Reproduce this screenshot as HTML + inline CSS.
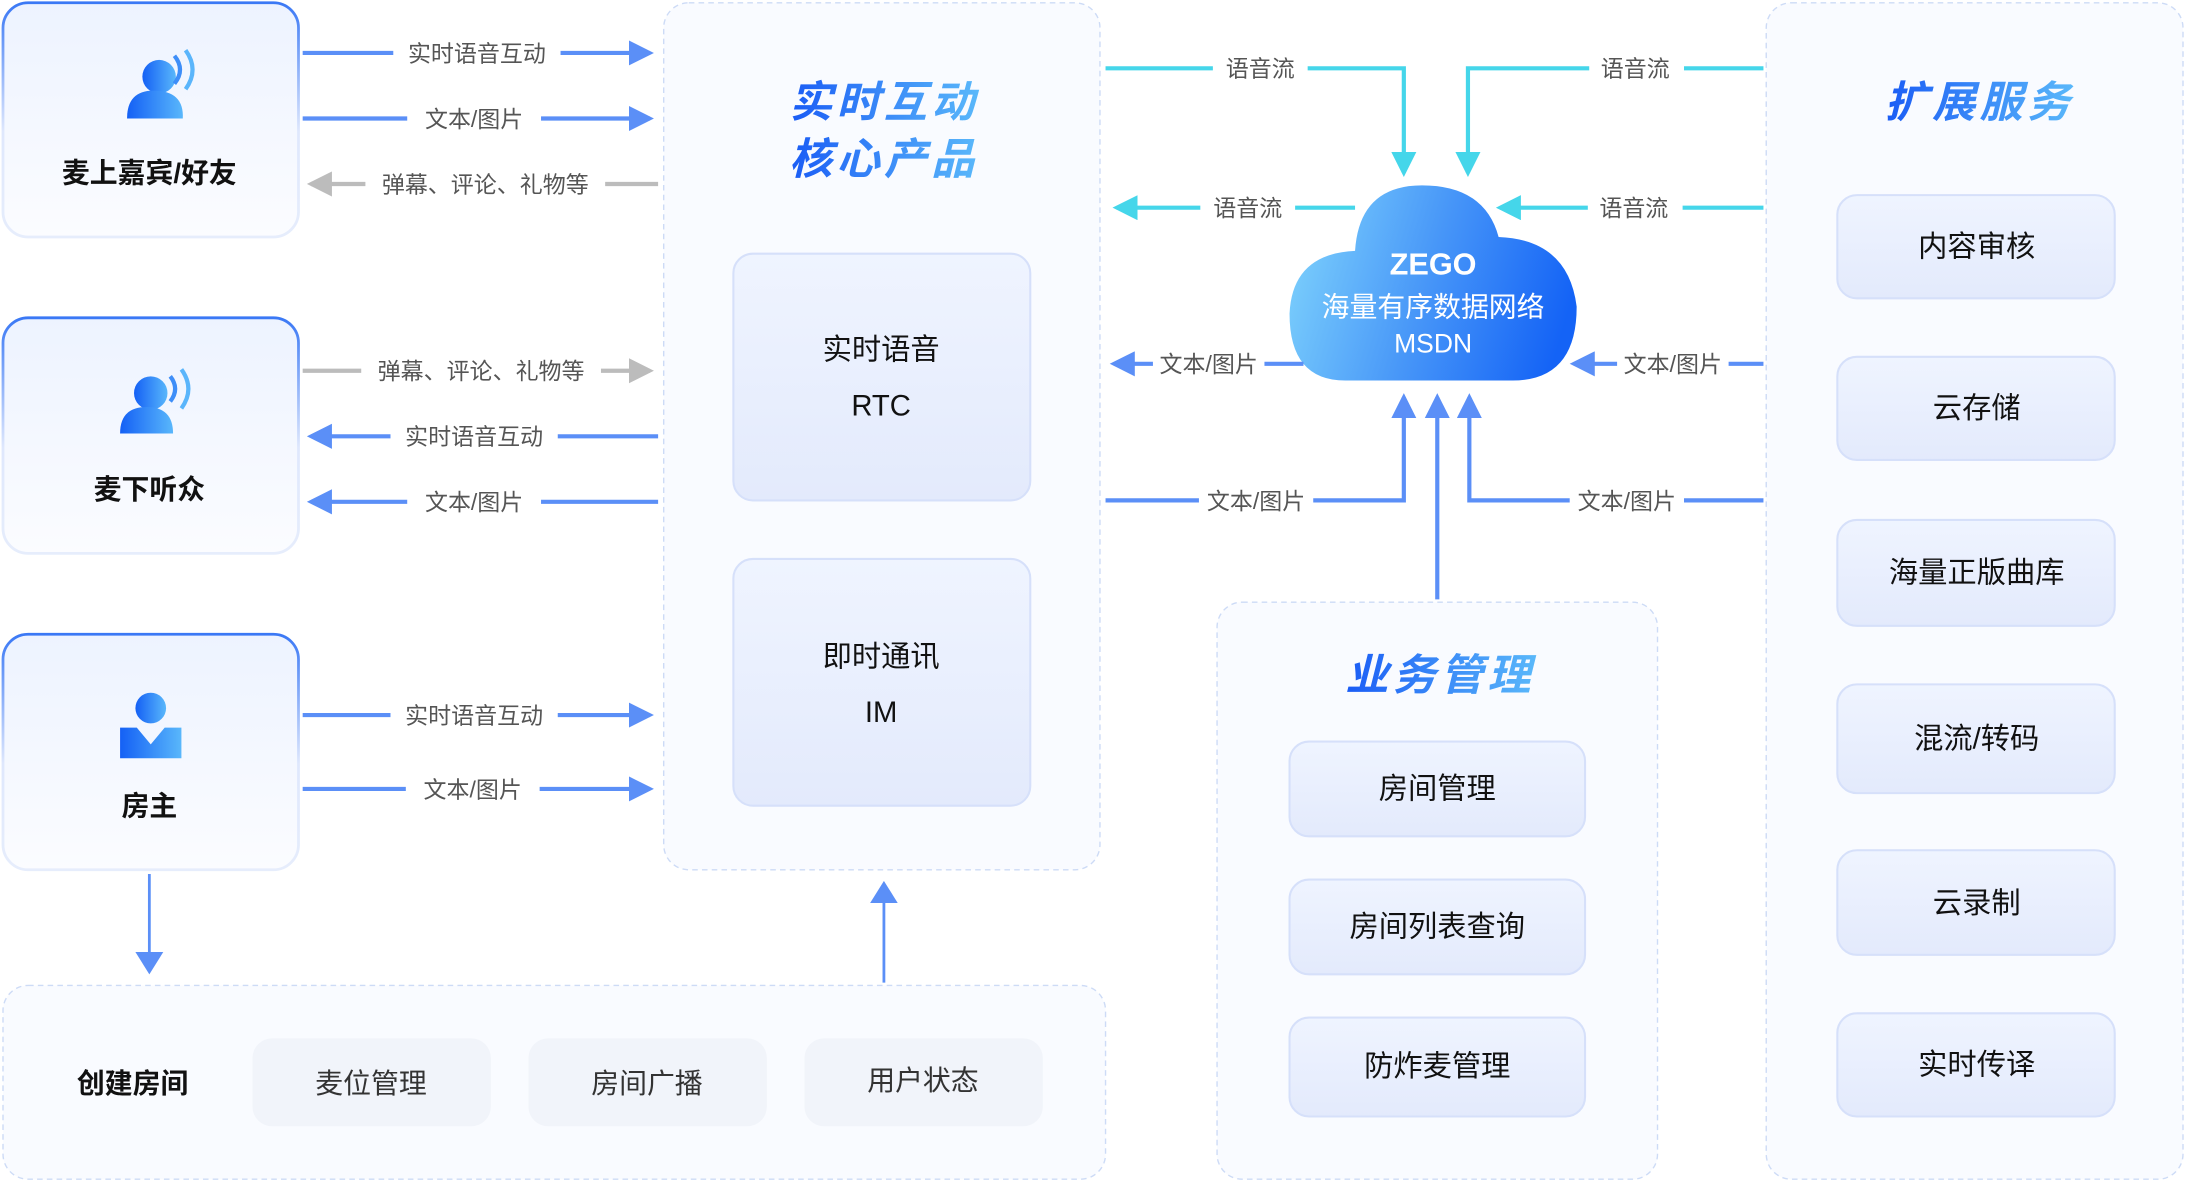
<!DOCTYPE html>
<html><head><meta charset="utf-8"><style>
html,body{margin:0;padding:0;background:#fff;}
svg{display:block;}
text{font-family:"Liberation Sans","Noto Sans CJK SC",sans-serif;}
</style></head><body>
<svg width="2186" height="1182" viewBox="0 0 1568 848" xmlns="http://www.w3.org/2000/svg">
<defs>
<linearGradient id="ub" x1="0" y1="0" x2="0" y2="1"><stop offset="0" stop-color="#3a78f5"/><stop offset="0.55" stop-color="#dfe8fd"/><stop offset="1" stop-color="#e6edfc"/></linearGradient>
<linearGradient id="uf" x1="0" y1="0" x2="0" y2="1"><stop offset="0" stop-color="#edf3ff"/><stop offset="1" stop-color="#fbfcff"/></linearGradient>
<linearGradient id="bf" x1="0" y1="0" x2="0" y2="1"><stop offset="0" stop-color="#eff4ff"/><stop offset="1" stop-color="#e3eafc"/></linearGradient>
<linearGradient id="tt" x1="0" y1="0" x2="1" y2="0"><stop offset="0" stop-color="#1a5cf5"/><stop offset="1" stop-color="#5ab8fa"/></linearGradient>
<linearGradient id="ic" x1="0" y1="0" x2="1" y2="0"><stop offset="0" stop-color="#1460f5"/><stop offset="1" stop-color="#59b7fb"/></linearGradient>
<linearGradient id="cl" x1="0" y1="0.3" x2="1" y2="0.5"><stop offset="0" stop-color="#7cd0fc"/><stop offset="0.5" stop-color="#4796f8"/><stop offset="1" stop-color="#1463f6"/></linearGradient>
<marker id="ab" markerWidth="6" markerHeight="6" refX="5" refY="3" orient="auto" markerUnits="strokeWidth"><path d="M0,0 L6,3 L0,6 z" fill="#5b8ff7"/></marker>
<marker id="ag" markerWidth="6" markerHeight="6" refX="5" refY="3" orient="auto" markerUnits="strokeWidth"><path d="M0,0 L6,3 L0,6 z" fill="#bcbcbc"/></marker>
<marker id="ac" markerWidth="6" markerHeight="6" refX="5" refY="3" orient="auto" markerUnits="strokeWidth"><path d="M0,0 L6,3 L0,6 z" fill="#45d6ea"/></marker>
<marker id="abs" markerWidth="8" markerHeight="10" refX="7" refY="5" orient="auto" markerUnits="strokeWidth"><path d="M0,0 L8,5 L0,10 z" fill="#5b8ff7"/></marker>
</defs>

<rect x="476" y="2" width="313" height="622" rx="18" fill="#f9fbff" stroke="#cddbf6" stroke-dasharray="4 3"/>
<rect x="2" y="707" width="791" height="139" rx="18" fill="#f9fbff" stroke="#cddbf6" stroke-dasharray="4 3"/>
<rect x="873" y="432" width="316" height="414" rx="18" fill="#f9fbff" stroke="#cddbf6" stroke-dasharray="4 3"/>
<rect x="1267" y="2" width="299" height="844" rx="18" fill="#f9fbff" stroke="#cddbf6" stroke-dasharray="4 3"/>

<g>
<rect x="2" y="2" width="212" height="168" rx="18" fill="url(#uf)" stroke="url(#ub)" stroke-width="2"/>
<rect x="2" y="228" width="212" height="169" rx="18" fill="url(#uf)" stroke="url(#ub)" stroke-width="2"/>
<rect x="2" y="455" width="212" height="169" rx="18" fill="url(#uf)" stroke="url(#ub)" stroke-width="2"/>
</g>
<g fill="url(#ic)">
<ellipse cx="114" cy="55" rx="12" ry="12"/><path d="M91,85 Q91,65 110,65 Q132,65 131,85 Z"/>
<path d="M125,40 Q133,50 125,60" stroke="#3e8ef8" stroke-width="3" fill="none"/><path d="M133,36 Q143,50 133,64" stroke="#5ab5fb" stroke-width="3" fill="none"/>
<ellipse cx="108" cy="282" rx="12" ry="12"/><path d="M86,311 Q86,292 105,292 Q124,292 124,311 Z"/>
<path d="M122,270 Q129,279 122,288" stroke="#3e8ef8" stroke-width="3" fill="none"/><path d="M130,265 Q140,279 130,293" stroke="#5ab5fb" stroke-width="3" fill="none"/>
<ellipse cx="108" cy="508" rx="11" ry="11"/><path d="M86,544 L86,522 L98,522 L108,534 L118,522 L130,522 L130,544 Z"/>
</g>
<g font-size="20" font-weight="bold" fill="#111" text-anchor="middle">
<text x="107" y="131">麦上嘉宾/好友</text>
<text x="107" y="358">麦下听众</text>
<text x="107" y="585">房主</text>
</g>

<g stroke-width="3" fill="none">
<line x1="217" y1="38" x2="466" y2="38" stroke="#5b8ff7" marker-end="url(#ab)"/>
<line x1="217" y1="85" x2="466" y2="85" stroke="#5b8ff7" marker-end="url(#ab)"/>
<line x1="472" y1="132" x2="223" y2="132" stroke="#bcbcbc" marker-end="url(#ag)"/>
<line x1="217" y1="266" x2="466" y2="266" stroke="#bcbcbc" marker-end="url(#ag)"/>
<line x1="472" y1="313" x2="223" y2="313" stroke="#5b8ff7" marker-end="url(#ab)"/>
<line x1="472" y1="360" x2="223" y2="360" stroke="#5b8ff7" marker-end="url(#ab)"/>
<line x1="217" y1="513" x2="466" y2="513" stroke="#5b8ff7" marker-end="url(#ab)"/>
<line x1="217" y1="566" x2="466" y2="566" stroke="#5b8ff7" marker-end="url(#ab)"/>
</g>
<g fill="#fff">
<rect x="282" y="26" width="120" height="24"/><rect x="292" y="73" width="96" height="24"/>
<rect x="262" y="120" width="172" height="24"/><rect x="259" y="254" width="172" height="24"/>
<rect x="280" y="301" width="120" height="24"/><rect x="292" y="348" width="96" height="24"/>
<rect x="280" y="501" width="120" height="24"/><rect x="291" y="554" width="96" height="24"/>
</g>
<g font-size="16.5" fill="#555" text-anchor="middle">
<text x="342" y="44">实时语音互动</text><text x="340" y="91">文本/图片</text>
<text x="348" y="138">弹幕、评论、礼物等</text><text x="345" y="272">弹幕、评论、礼物等</text>
<text x="340" y="319">实时语音互动</text><text x="340" y="366">文本/图片</text>
<text x="340" y="519">实时语音互动</text><text x="339" y="572">文本/图片</text>
</g>

<g font-size="31" font-weight="bold" font-style="italic" fill="url(#tt)" text-anchor="middle" letter-spacing="3">
<text x="634" y="84">实时互动</text><text x="634" y="125">核心产品</text>
<text x="1420" y="84">扩展服务</text><text x="1033" y="495">业务管理</text>
</g>
<rect x="526" y="182" width="213" height="177" rx="14" fill="url(#bf)" stroke="#d6e0fa" stroke-width="1.5"/>
<rect x="526" y="401" width="213" height="177" rx="14" fill="url(#bf)" stroke="#d6e0fa" stroke-width="1.5"/>
<g font-size="21" fill="#111" text-anchor="middle">
<text x="632" y="258">实时语音</text><text x="632" y="298">RTC</text>
<text x="632" y="478">即时通讯</text><text x="632" y="518">IM</text>
</g>

<line x1="107" y1="627" x2="107" y2="697" stroke="#5b8ff7" stroke-width="2" marker-end="url(#abs)"/>
<line x1="634" y1="705" x2="634" y2="634" stroke="#5b8ff7" stroke-width="2" marker-end="url(#abs)"/>
<text x="95" y="784" font-size="20" font-weight="bold" fill="#111" text-anchor="middle">创建房间</text>
<g fill="#f1f4fa"><rect x="181" y="745" width="171" height="63" rx="14"/><rect x="379" y="745" width="171" height="63" rx="14"/><rect x="577" y="745" width="171" height="63" rx="14"/></g>
<g font-size="20" fill="#333" text-anchor="middle"><text x="266" y="784">麦位管理</text><text x="464" y="784">房间广播</text><text x="662" y="782">用户状态</text></g>

<path d="M972,180 Q975,133 1020,133 Q1065,133 1075,170 Q1125,172 1131,220 Q1131,273 1085,273 L965,273 Q925,273 925,225 Q927,182 972,180 Z" fill="url(#cl)"/>
<g fill="#fff" text-anchor="middle">
<text x="1028" y="197" font-size="22" font-weight="bold">ZEGO</text>
<text x="1028" y="227" font-size="20">海量有序数据网络</text>
<text x="1028" y="253" font-size="19">MSDN</text>
</g>

<g stroke-width="3" fill="none">
<polyline points="793,49 1007,49 1007,124" stroke="#45d6ea" marker-end="url(#ac)"/>
<polyline points="1265,49 1053,49 1053,124" stroke="#45d6ea" marker-end="url(#ac)"/>
<line x1="972" y1="149" x2="801" y2="149" stroke="#45d6ea" marker-end="url(#ac)"/>
<line x1="1265" y1="149" x2="1076" y2="149" stroke="#45d6ea" marker-end="url(#ac)"/>
<line x1="935" y1="261" x2="799" y2="261" stroke="#5b8ff7" marker-end="url(#ab)"/>
<line x1="1265" y1="261" x2="1129" y2="261" stroke="#5b8ff7" marker-end="url(#ab)"/>
<polyline points="793,359 1007,359 1007,285" stroke="#5b8ff7" marker-end="url(#ab)"/>
<polyline points="1265,359 1054,359 1054,285" stroke="#5b8ff7" marker-end="url(#ab)"/>
<line x1="1031" y1="430" x2="1031" y2="285" stroke="#5b8ff7" marker-end="url(#ab)"/>
</g>
<g fill="#fff">
<rect x="870" y="37" width="68" height="24"/><rect x="1140" y="37" width="68" height="24"/>
<rect x="861" y="137" width="68" height="24"/><rect x="1139" y="137" width="68" height="24"/>
<rect x="827" y="249" width="80" height="24"/><rect x="1160" y="249" width="80" height="24"/>
<rect x="860" y="347" width="82" height="24"/><rect x="1126" y="347" width="82" height="24"/>
</g>
<g font-size="16.5" fill="#555" text-anchor="middle">
<text x="904" y="55">语音流</text><text x="1173" y="55">语音流</text>
<text x="895" y="155">语音流</text><text x="1172" y="155">语音流</text>
<text x="867" y="267">文本/图片</text><text x="1200" y="267">文本/图片</text>
<text x="901" y="365">文本/图片</text><text x="1167" y="365">文本/图片</text>
</g>

<g fill="url(#bf)" stroke="#d6e0fa" stroke-width="1.5">
<rect x="925" y="532" width="212" height="68" rx="14"/><rect x="925" y="631" width="212" height="68" rx="14"/><rect x="925" y="730" width="212" height="71" rx="14"/>
<rect x="1318" y="140" width="199" height="74" rx="14"/><rect x="1318" y="256" width="199" height="74" rx="14"/><rect x="1318" y="373" width="199" height="76" rx="14"/>
<rect x="1318" y="491" width="199" height="78" rx="14"/><rect x="1318" y="610" width="199" height="75" rx="14"/><rect x="1318" y="727" width="199" height="74" rx="14"/>
</g>
<g font-size="21" fill="#111" text-anchor="middle">
<text x="1031" y="573">房间管理</text><text x="1031" y="672">房间列表查询</text><text x="1031" y="772">防炸麦管理</text>
<text x="1418" y="184">内容审核</text><text x="1418" y="300">云存储</text><text x="1418" y="418">海量正版曲库</text>
<text x="1418" y="537">混流/转码</text><text x="1418" y="655">云录制</text><text x="1418" y="771">实时传译</text>
</g>
</svg>
</body></html>
